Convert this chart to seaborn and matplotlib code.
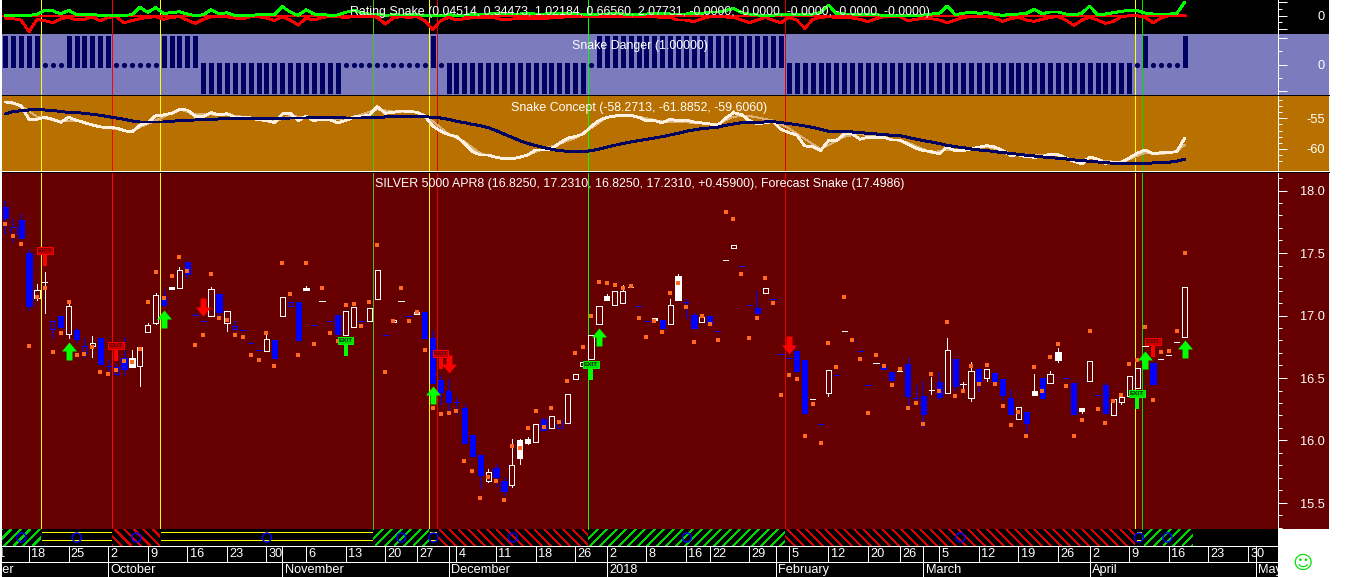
import numpy as np
import pandas as pd
import matplotlib
matplotlib.use('Agg')
import matplotlib.pyplot as plt
from matplotlib.path import Path
from matplotlib.ticker import FixedLocator, FixedFormatter
import seaborn as sns

# ---- price pane data (one entry per daily bar) ----
opens = [17.868,17.652,17.761,17.500,17.143,17.265,16.895,16.993,16.855,16.881,
         16.703,16.756,16.817,16.593,16.535,16.657,16.657,16.599,16.871,16.943,
         17.148,17.228,17.223,17.425,17.001,16.953,16.999,17.169,16.937,16.895,
         16.881,16.777,16.721,16.719,16.801,16.999,17.073,17.105,17.220,16.924,
         17.113,16.953,17.004,16.847,16.911,16.956,16.959,17.135,16.841,16.945,
         17.113,16.993,17.025,17.025,16.817,16.481,16.396,16.305,16.257,16.044,
         15.884,15.679,15.777,15.676,15.644,16.001,16.009,15.991,16.172,16.103,
         16.100,16.143,16.489,16.599,16.655,16.935,17.153,17.087,17.097,17.225,
         17.073,16.953,16.977,16.961,16.935,17.316,17.111,17.004,16.945,16.993,
         16.873,17.441,17.537,17.393,17.081,17.057,17.183,17.129,16.689,16.657,
         16.716,16.641,16.329,16.129,16.383,16.521,16.873,16.793,16.713,16.441,
         16.617,16.596,16.551,16.553,16.612,16.337,16.356,16.404,16.468,16.383,
         16.649,16.452,16.343,16.569,16.503,16.537,16.489,16.340,16.175,16.228,
         16.393,16.500,16.463,16.708,16.500,16.457,16.260,16.479,16.361,16.441,
         16.207,16.305,16.359,16.423,16.753,16.617,16.649,16.681,16.785,16.825]
closes = [17.777,17.708,17.617,17.076,17.201,17.265,16.956,16.911,17.073,16.812,
          16.753,16.777,16.612,16.593,16.591,16.575,16.588,16.745,16.927,17.161,
          17.081,17.215,17.361,17.329,17.001,16.953,17.209,17.025,17.033,16.913,
          16.881,16.777,16.721,16.809,16.660,17.145,17.105,16.804,17.207,16.924,
          17.113,16.953,16.849,17.033,17.065,16.956,17.063,17.361,16.841,16.961,
          17.113,16.993,17.015,16.820,16.463,16.388,16.308,16.305,15.983,15.876,
          15.727,15.745,15.711,15.599,15.801,15.860,15.983,16.129,16.084,16.193,
          16.159,16.369,16.529,16.628,16.841,17.073,17.127,17.193,17.199,17.225,
          17.073,16.953,16.964,16.900,17.081,17.127,17.111,16.900,16.985,16.943,
          16.873,17.441,17.561,17.393,17.081,17.023,17.217,17.129,16.689,16.657,
          16.559,16.223,16.329,16.129,16.561,16.521,16.873,16.793,16.713,16.441,
          16.617,16.575,16.487,16.553,16.359,16.337,16.215,16.404,16.351,16.721,
          16.439,16.452,16.553,16.473,16.569,16.476,16.364,16.215,16.265,16.137,
          16.367,16.343,16.535,16.644,16.500,16.215,16.236,16.633,16.361,16.220,
          16.329,16.345,16.513,16.577,16.753,16.455,16.649,16.681,16.785,17.231]
highs = [17.916,17.772,17.809,17.521,17.249,17.345,16.956,16.993,17.089,16.897,
         16.823,16.833,16.817,16.641,16.609,16.825,16.721,16.745,16.937,17.180,
         17.207,17.228,17.385,17.425,17.017,16.953,17.228,17.169,17.033,16.959,
         16.881,16.777,16.721,16.849,16.801,17.145,17.105,17.105,17.236,16.924,
         17.113,16.953,17.004,17.033,17.065,16.956,17.063,17.361,16.841,16.961,
         17.113,16.993,17.025,17.025,16.876,16.524,16.492,16.348,16.289,16.044,
         15.884,15.772,15.809,15.708,16.012,16.012,16.031,16.129,16.172,16.193,
         16.159,16.369,16.529,16.628,16.841,17.073,17.172,17.193,17.244,17.225,
         17.073,16.953,16.977,16.961,17.129,17.332,17.132,17.020,16.985,16.993,
         16.873,17.441,17.561,17.393,17.081,17.196,17.217,17.129,16.689,16.657,
         16.716,16.641,16.329,16.129,16.561,16.521,16.873,16.793,16.713,16.441,
         16.617,16.596,16.551,16.553,16.665,16.441,16.473,16.508,16.548,16.820,
         16.649,16.468,16.628,16.569,16.569,16.537,16.489,16.409,16.265,16.228,
         16.532,16.500,16.553,16.740,16.500,16.457,16.260,16.633,16.361,16.457,
         16.329,16.345,16.513,16.577,16.753,16.617,16.649,16.681,16.785,17.231]
lows = [17.649,17.591,17.617,17.041,17.124,17.020,16.817,16.911,16.823,16.791,
        16.671,16.671,16.612,16.545,16.524,16.524,16.588,16.439,16.871,16.935,
        17.079,17.215,17.223,17.297,17.001,16.953,16.999,16.991,16.876,16.895,
        16.881,16.777,16.721,16.719,16.660,16.999,17.073,16.804,17.207,16.924,
        17.113,16.953,16.849,16.847,16.911,16.956,16.959,17.135,16.841,16.945,
        17.113,16.993,17.015,16.820,16.463,16.295,16.231,16.209,15.983,15.876,
        15.617,15.671,15.639,15.564,15.631,15.815,15.969,15.991,16.084,16.103,
        16.100,16.143,16.489,16.599,16.655,16.935,17.127,17.087,17.097,17.225,
        17.073,16.953,16.964,16.900,16.935,17.127,16.977,16.900,16.945,16.943,
        16.873,17.441,17.537,17.393,17.081,17.023,17.183,17.129,16.689,16.657,
        16.559,16.223,16.329,16.129,16.359,16.521,16.873,16.793,16.713,16.441,
        16.617,16.575,16.487,16.553,16.271,16.292,16.111,16.372,16.332,16.383,
        16.404,16.404,16.319,16.399,16.479,16.476,16.324,16.215,16.175,16.057,
        16.367,16.343,16.463,16.631,16.500,16.215,16.223,16.479,16.361,16.220,
        16.207,16.292,16.359,16.423,16.753,16.455,16.649,16.681,16.785,16.825]
# b = blue bar, w = white bar
bar_colours = ("bbbbwwbbwb" "bwbbbbwwww" "bwwbbbwbwb" "bbbwbwbbwb" "wbbwwbwwbw"
               "wbwbbbbbbb" "bwbbwwwwbw" "bwwwwwwwww" "bbwbwwbbwb" "bwwbbbwbbb"
               "bbwbwbwbbb" "wbbwbbbwbw" "bwwbwbbbwb" "wbwwbbwwbb" "wwwwwbwwww")
forecast = [17.735,17.639,17.569,16.753,17.145,17.217,16.705,16.857,17.105,16.681,
            16.689,16.748,16.545,16.529,16.561,16.633,16.625,16.729,17.105,17.345,
            17.143,17.313,17.465,17.353,16.761,16.841,17.329,16.983,16.967,16.841,
            16.825,16.681,16.641,16.857,16.593,17.417,17.169,16.681,17.417,16.769,
            17.217,16.857,16.796,17.081,17.089,16.913,17.105,17.561,16.545,16.953,
            17.217,16.953,17.025,16.721,16.257,16.209,16.217,16.233,15.833,15.753,
            15.537,15.705,15.676,15.524,15.959,15.943,16.097,16.233,16.105,16.257,
            16.145,16.473,16.697,16.745,16.993,17.265,17.257,17.241,17.217,17.233,
            16.977,16.825,16.953,16.868,17.177,17.257,17.065,16.785,16.993,16.929,
            16.801,17.825,17.769,17.329,16.817,16.977,17.297,17.097,16.361,16.521,
            16.489,16.033,16.289,15.977,16.777,16.585,17.145,16.801,16.649,16.217,
            16.681,16.593,16.441,16.569,16.257,16.297,16.129,16.529,16.393,16.945,
            16.353,16.393,16.593,16.449,16.601,16.449,16.273,16.121,16.225,16.033,
            16.585,16.393,16.665,16.769,16.433,16.033,16.161,16.873,16.249,16.137,
            16.313,16.361,16.609,16.641,16.905,16.321,16.705,16.713,16.873,17.499]

buy_bars = [8, 20, 54, 75, 144, 149]
buy_prices = [16.716, 16.972, 16.364, 16.828, 16.644, 16.732]
sell_bars = [25, 56, 99]
sell_prices = [17.068, 16.612, 16.764]
exit_red_bars = [5, 14, 55, 145]
exit_red_tops = [17.519, 16.759, 16.695, 16.791]
exit_red_ends = [17.396, 16.636, 16.572, 16.668]
exit_green_bars = [43, 74, 143]
exit_green_tops = [16.799, 16.607, 16.375]
exit_green_ends = [16.676, 16.484, 16.252]

# ---- indicator panes ----
rating_green = [.05,.05,.05,.05,.2,.8,.75,.25,.8,.2,.2,.2,.05,.1,.05,.05,.15,1.25,.5,1.2,
                .35,.45,.6,.25,0,.15,.9,.25,.45,.05,0,.05,.15,.25,.2,1.35,.55,.05,.9,.25,
                .2,.05,.1,.5,.8,.45,.25,.25,.05,.15,.1,.15,.15,.05,.05,0,
                .15,.05,.1,.15,.25,.25,.35,.25,.25,.25,.35,.25,.25,.3,.35,.3,.25,.25,.15,.25,
                .25,.35,.25,.15,.15,.25,.35,.35,.25,.25,.25,.35,.35,.55,.55,.75,1.1,.45,.25,.1,
                .05,.05,.25,.15,.25,.15,.25,.45,1.6,.35,.25,.25,.15,.25,.15,.05,.05,
                .05,.05,.05,.1,.25,.35,1.45,.15,.35,.55,.35,.45,.2,.05,.2,.25,.35,.95,.3,.55,
                .55,.25,.1,.35,1.45,.15,.25,.45,.65,.8,.75,.4,.25,.25,.25,.3,2.05]
rating_red = [-.35,-.45,-.65,-2.4,-.55,-.75,-1.05,-.45,-.25,-.65,-.55,-.15,-.75,-.25,-.15,-1.05,
              -.75,-.45,-.25,-.15,-.55,-.25,-.15,-.65,-1.15,-.55,-.15,-.15,-.15,-.35,-.45,-.15,
              -.15,-.35,-.75,-.15,-.65,-1.4,-.35,-.65,-.25,-.15,-.15,-.25,-.15,-.15,-.05,-.25,
              -1.25,-.35,-.15,-.25,-.15,-.75,-2.05,-.75,
              -.25,-.65,-.45,-.3,-.25,-.25,-.35,-.65,-.5,-.4,-.45,-.35,-.45,-.3,-.25,-.15,
              -.15,-.15,-.15,-.15,-.15,-.15,-.15,-.15,-.15,-.15,-.15,-.25,-.25,-.65,-.65,-.9,
              -.45,-.15,-.15,-.2,-.25,-.65,-1.05,-.65,-.25,-.65,-1.05,-.25,-.65,-1.9,-.55,-.25,
              -.15,-.25,-.25,-.35,-.55,-.9,-.45,-.15,-.15,
              -.15,-.75,-.55,-.4,-.45,-.65,-1.05,-.65,-.25,-.15,-.15,-.15,-.35,-.85,-.45,-.25,
              -.65,-.85,-.55,-.25,-.15,-.65,-1.45,-.65,-.25,-.65,-1.15,-.85,-.15,0,0,-.25,
              -1.05,-.35,0,0,0]
danger = ([1]*5 + [0]*3 + [1]*6 + [0]*6 + [1]*5 + [-1]*18 + [0]*11 + [1] + [0] + [-1]*18
          + [0] + [1]*24 + [-1]*44 + [0] + [1] + [0]*4 + [1])
concept_fast = [-52.34,-52.5,-52.99,-55.16,-55.16,-54.84,-55.16,-55.65,-54.84,-55.33,
                -55.71,-56.09,-56.41,-56.52,-56.58,-57.01,-57.23,-56.14,-55.71,-54.57,
                -54.46,-54.18,-53.59,-53.64,-54.67,-54.73,-54.08,-54.46,-54.24,-54.78,
                -54.78,-54.95,-55.22,-55.38,-55.71,-54.29,-54.18,-55.38,-54.67,-55.38,
                -55.11,-55.27,-55.71,-55.38,-54.78,-54.73,-54.46,-53.1,-54.18,-54.02,
                -53.8,-53.86,-54.02,-54.62,-56.25,-57.12,-57.66,
                -57.99,-59.08,-60.43,-60.98,-60.98,-61.36,-61.58,-61.58,-61.36,-60.98,
                -60.16,-60.16,-60.0,-59.08,-58.26,-57.99,-57.55,-56.36,-55.38,-54.84,
                -54.62,-54.51,-54.51,-54.84,-55.38,-55.38,-55.71,-55.16,-55.38,-55.27,
                -55.6,-55.76,-55.92,-56.14,-55.0,-54.08,-54.4,-55.38,-55.92,-55.71,
                -55.54,-56.79,-57.34,-57.72,-59.51,-59.62,-60.27,-58.64,-58.64,-57.55,
                -57.55,-58.42,-58.1,-58.21,-58.1,-58.53,
                -58.53,-59.18,-59.84,-60.27,-60.43,-60.82,-59.62,-60.27,-60.27,-59.95,
                -59.73,-59.46,-59.67,-60.27,-61.03,-60.98,-61.25,-61.36,-61.25,-60.87,
                -60.92,-61.52,-62.01,-62.45,-61.3,-61.68,-62.34,-62.17,-62.17,-61.47,
                -60.71,-60.16,-60.82,-60.6,-60.6,-60.43,-58.27]
concept_slow = [-54.29,-53.91,-53.75,-53.64,-53.59,-53.64,-53.7,-53.91,-54.02,-54.08,
                -54.18,-54.35,-54.51,-54.73,-54.95,-55.16,-55.43,-55.6,-55.6,-55.6,
                -55.6,-55.49,-55.38,-55.33,-55.27,-55.22,-55.16,-55.11,-55.0,-55.0,
                -55.0,-55.05,-55.05,-55.05,-55.0,-55.0,-54.95,-54.95,-54.95,-54.89,
                -54.89,-54.84,-54.89,-54.95,-54.95,-54.95,-54.89,-54.89,-54.78,-54.73,
                -54.73,-54.73,-54.73,-54.73,-54.84,-54.95,-55.16,
                -55.49,-55.71,-55.98,-56.2,-56.52,-57.01,-57.55,-58.1,-58.64,-59.08,
                -59.46,-59.78,-60.05,-60.27,-60.38,-60.49,-60.49,-60.27,-60.05,-59.73,
                -59.4,-59.13,-58.86,-58.64,-58.42,-58.21,-57.99,-57.72,-57.45,-57.12,
                -56.9,-56.68,-56.58,-56.47,-56.14,-55.92,-55.71,-55.65,-55.65,-55.6,
                -55.54,-55.71,-55.87,-56.03,-56.25,-56.47,-56.79,-57.12,-57.17,-57.17,
                -57.23,-57.34,-57.45,-57.55,-57.66,-57.77,
                -57.83,-58.1,-58.37,-58.64,-58.86,-59.13,-59.4,-59.62,-59.78,-60.0,
                -60.16,-60.27,-60.43,-60.6,-60.71,-60.87,-61.03,-61.14,-61.3,-61.41,
                -61.52,-61.63,-61.79,-61.9,-62.01,-62.12,-62.23,-62.34,-62.39,-62.39,
                -62.34,-62.34,-62.28,-62.23,-62.17,-62.01,-61.69]
concept_mid_bars = [0,2,4,7,9,11,16,17,19,22,24,28,31,34,36,38,41,44,47,49,52,53,56,
                    58,60,63,65,68,72,74,76,79,83,87,90,92,94,97,99,103,106,108,112,
                    114,117,119,122,124,127,130,133,136,138,141,144,146,148,149]
concept_mid = [-52.34,-52.99,-54.73,-55.54,-55.38,-56.14,-57.17,-56.47,-55.38,-53.53,-54.29,
               -54.46,-54.89,-55.54,-54.62,-54.84,-55.27,-54.84,-53.53,-53.91,-53.97,-54.46,-57.55,
               -58.8,-60.71,-61.69,-61.36,-60.05,-58.26,-56.63,-54.84,-54.46,-55.54,-55.71,-56.03,
               -54.73,-54.62,-55.38,-56.63,-60.05,-57.99,-57.55,-58.42,
               -58.97,-60.6,-60.16,-60.05,-59.62,-60.71,-61.03,-61.03,-62.23,-61.79,-62.23,-60.6,
               -60.82,-60.43,-59.35]

# ---- signal lines and bottom strip, in bar numbers ----
signal_bars = [4.51, 13.54, 19.58, 46.5, 53.57, 54.6, 73.66, 98.55, 142.77, 143.66]
signal_colours = ['#ffff00', '#ff0000', '#ffff00', '#50c010', '#ffff00', '#e00000',
                  '#00ff00', '#e00000', '#ffff00', '#00e000']
strip_edges = [-0.417, 4.51, 13.54, 19.58, 46.5, 53.57, 54.6, 73.66, 98.55, 142.77, 143.66, 150.0]
strip_kinds = ['g', 'y', 'r', 'y', 'g', 'y', 'r', 'g', 'r', 'y', 'g']

date_bars = [-2, 3, 8, 13, 18, 23, 28, 33, 38, 43, 48, 52, 57, 62, 67, 72, 76, 81, 86, 89, 94,
             99, 104, 109, 113, 118, 123, 128, 133, 137, 142, 147, 152, 157]
date_labels = ['11', '18', '25', '2', '9', '16', '23', '30', '6', '13', '20', '27', '4', '11',
               '18', '26', '2', '8', '16', '22', '29', '5', '12', '20', '26', '5', '12', '19',
               '26', '2', '9', '16', '23', '30']
month_bars = [-7.1, 13, 35, 56, 76, 97.4, 116, 137, 158]
month_labels = ['September', 'October', 'November', 'December', '2018', 'February', 'March',
                'April', 'May']

rating_title = ('Rating Snake (0.04514, 0.34473, 1.02184, 0.66560, 2.07731, -0.0000, -0.0000, '
                '-0.0000, -0.0000, -0.0000)')
danger_title = 'Snake Danger (1.00000)'
concept_title = 'Snake Concept (-58.2713, -61.8852, -59.6060)'
price_title = 'SILVER 5000 APR8 (16.8250, 17.2310, 16.8250, 17.2310, +0.45900), Forecast Snake (17.4986)'

# ---- layout, everything in screen pixels ----
WIDTH, HEIGHT = 1352, 577
BAR_PX = 7.915
FIRST_BAR_PX = 5.3
AXIS_PX = 1277.5
ONE_PX = 0.72
MAROON = '#660000'
NAVY = '#000060'

sns.set_theme(style='white')
plt.rcParams['font.family'] = ['Liberation Sans', 'DejaVu Sans']
plt.rcParams['axes.unicode_minus'] = False

bars = np.arange(150)
fig = plt.figure(figsize=(WIDTH / 100, HEIGHT / 100), dpi=100, facecolor='white')


def to_bar(px):
    return (px - FIRST_BAR_PX) / BAR_PX


def make_pane(top, bottom, colour, right=1329):
    ax = fig.add_axes([2 / WIDTH, 1 - bottom / HEIGHT, (right - 2) / WIDTH, (bottom - top) / HEIGHT])
    ax.set_facecolor(colour)
    ax.set_xlim(to_bar(2), to_bar(right))
    ax.set_xticks([])
    for side in ax.spines:
        ax.spines[side].set_visible(False)
    return ax


def draw_signals(ax):
    for x, c in zip(signal_bars, signal_colours):
        ax.axvline(x, color=c, lw=ONE_PX, antialiased=False, zorder=1)


def right_axis(ax, major, minor, labels=None, fmt=None):
    sp = ax.spines['right']
    sp.set_visible(True)
    sp.set_position(('data', to_bar(AXIS_PX)))
    sp.set_color('white')
    sp.set_linewidth(ONE_PX)
    ax.yaxis.set_major_locator(FixedLocator(major))
    ax.yaxis.set_minor_locator(FixedLocator(minor))
    if labels is None:
        labels = [fmt % m for m in major]
    ax.yaxis.set_major_formatter(FixedFormatter(labels))
    ax.tick_params(axis='y', which='major', left=False, right=True, labelleft=False, labelright=True,
                   length=6.3, width=ONE_PX, color='white', labelcolor='white', labelsize=9.2, pad=27.6)
    ax.tick_params(axis='y', which='minor', left=False, right=True, length=2.9, width=ONE_PX, color='white')
    for lab in ax.get_yticklabels():
        lab.set_ha('right')
    ax.set_ylabel('')
    ax.set_xlabel('')


def pane_title(ax, text, py_frac):
    # titles are centred over the plotted area, not the whole pane
    ax.text(to_bar(639.5), py_frac, text, transform=ax.get_xaxis_transform(), color='white',
            ha='center', va='center', fontsize=8.9, zorder=20)


# ---- rating pane ----
ax_rating = make_pane(0, 33.5, 'black')
ax_rating.set_ylim(-17.8 / 6.7, 15.7 / 6.7)
draw_signals(ax_rating)
rating_df = pd.DataFrame({'bar': bars, 'green': rating_green, 'red': rating_red})
sns.lineplot(data=rating_df, x='bar', y='red', color='#ff0000', lw=1.35, errorbar=None, ax=ax_rating,
             antialiased=False, zorder=3)
ax_rating.axhline(0, xmin=0, xmax=(1186 - 2) / 1327, color='#ff0000', lw=1.35, antialiased=False, zorder=3)
sns.lineplot(data=rating_df, x='bar', y='green', color='#00ff00', lw=1.35, errorbar=None, ax=ax_rating,
             antialiased=False, zorder=4)
right_axis(ax_rating, [-2, 0, 2], [-1, 1], labels=['', '0', ''])
pane_title(ax_rating, rating_title, 0.645)

# ---- danger pane ----
ax_danger = make_pane(33.5, 95.5, '#7b7bbd')
ax_danger.set_ylim(-31 / 26.5, 31 / 26.5)
draw_signals(ax_danger)
danger_df = pd.DataFrame({'bar': bars, 'value': danger})
solid = danger_df[danger_df['value'] != 0]
ax_danger.vlines(solid['bar'], 0, solid['value'], color=NAVY, lw=3.3, capstyle='round',
                 antialiased=False, zorder=3)
sns.scatterplot(data=danger_df[danger_df['value'] == 0], x='bar', y='value', color=NAVY, s=14,
                linewidth=0, ax=ax_danger, zorder=3)
right_axis(ax_danger, [-1, 0, 1], [-0.5, 0.5], labels=['', '0', ''])
pane_title(ax_danger, danger_title, 0.795)

# ---- concept pane ----
ax_concept = make_pane(95.5, 171.5, '#b87000')
ax_concept.set_ylim(-55 - (171.5 - 118.3) / 6.13, -55 + (118.3 - 95.5) / 6.13)
draw_signals(ax_concept)
sns.lineplot(x=concept_mid_bars, y=concept_mid, color='#d8b078', lw=ONE_PX, errorbar=None, ax=ax_concept,
             antialiased=False, zorder=3)
sns.lineplot(x=bars, y=concept_fast, color='#fff0e0', lw=1.3, errorbar=None, ax=ax_concept,
             antialiased=False, zorder=4)
sns.lineplot(x=bars, y=concept_slow, color=NAVY, lw=1.4, errorbar=None, ax=ax_concept,
             antialiased=False, zorder=5)
right_axis(ax_concept, [-60, -55], np.arange(-62, -51), fmt='%d')
ax_concept.spines['top'].set_visible(True)
ax_concept.spines['top'].set_color('black')
ax_concept.spines['top'].set_linewidth(ONE_PX)
pane_title(ax_concept, concept_title, 0.83)

# ---- price pane ----
ax_price = make_pane(171.5, 529, MAROON)
ax_price.set_ylim(18 - (529 - 190.5) / 125, 18 + (190.5 - 171.5) / 125)
draw_signals(ax_price)

o = np.array(opens)
c = np.array(closes)
cols = np.array(['#0000ff' if k == 'b' else '#ffffff' for k in bar_colours])
ax_price.vlines(bars, lows, highs, colors=cols, lw=ONE_PX, antialiased=False, zorder=2)
faces = [col if cl < op else MAROON for col, op, cl in zip(cols, o, c)]
ax_price.bar(bars, np.abs(c - o), bottom=np.minimum(o, c), width=5.2 / BAR_PX, color=faces, edgecolor=cols,
             linewidth=ONE_PX, antialiased=False, zorder=3)
sns.scatterplot(x=bars, y=forecast, marker='s', color='#ff6a20', s=9, linewidth=0, ax=ax_price, zorder=4)

arrow_up = Path([(0, 1), (0.83, 0), (0.33, 0), (0.33, -1), (-0.33, -1), (-0.33, 0), (-0.83, 0), (0, 1)], closed=True)
arrow_down = Path([(0, -1), (0.83, 0), (0.33, 0), (0.33, 1), (-0.33, 1), (-0.33, 0), (-0.83, 0), (0, -1)], closed=True)
sns.scatterplot(x=buy_bars, y=buy_prices, marker=arrow_up, color='#00ff00', s=168, linewidth=0, ax=ax_price, zorder=6)
sns.scatterplot(x=sell_bars, y=sell_prices, marker=arrow_down, color='#ff0000', s=168, linewidth=0, ax=ax_price, zorder=6)

for xs, tops, ends, edge, fill, ink in [(exit_red_bars, exit_red_tops, exit_red_ends, '#ff0000', '#c00000', '#660000'),
                                        (exit_green_bars, exit_green_tops, exit_green_ends, '#00ff00', '#00dd00', '#003300')]:
    ax_price.vlines(xs, ends, tops, color=edge, lw=1.5, antialiased=False, zorder=6)
    for x, top in zip(xs, tops):
        ax_price.text(x, top, 'EXIT', color=ink, fontsize=4.6, fontweight='bold', ha='center', va='center',
                      zorder=7, bbox=dict(boxstyle='square,pad=0.1', fc=fill, ec=edge, lw=ONE_PX))

right_axis(ax_price, [15.5, 16.0, 16.5, 17.0, 17.5, 18.0], np.round(np.arange(15.3, 18.15, 0.1), 1), fmt='%.1f')
ax_price.spines['top'].set_visible(True)
ax_price.spines['top'].set_color('black')
ax_price.spines['top'].set_linewidth(ONE_PX)
pane_title(ax_price, price_title, 0.966)

# ---- signal strip ----
ax_strip = make_pane(529, 546, 'black', right=1278)
ax_strip.set_ylim(0, 1)
hatch_colours = {'g': '#00d800', 'r': '#d80000'}
hatch_pitch = 9.5 / BAR_PX
hatch_run = 17 / BAR_PX
mids = []
for left, right, kind in zip(strip_edges[:-1], strip_edges[1:], strip_kinds):
    mids.append((left + right) / 2)
    if kind == 'y':
        ax_strip.hlines([0.85, 0.38], left + 0.15, right - 0.15, color='#ffff00', lw=ONE_PX, antialiased=False)
    else:
        span = ax_strip.axvspan(left, right, facecolor='black', linewidth=0)
        for start in np.arange(left - hatch_run, right, hatch_pitch):
            ends = (0, 1) if kind == 'g' else (1, 0)
            ln, = ax_strip.plot([start, start + hatch_run], ends, color=hatch_colours[kind], lw=0.55,
                                antialiased=False, zorder=3)
            ln.set_clip_path(span)
ax_strip.set_xlim(to_bar(2), to_bar(1278))
sns.scatterplot(x=mids, y=[0.5] * len(mids), marker='o', facecolor='none', edgecolor='#0000ff', s=42,
                linewidth=1.0, ax=ax_strip, zorder=5)
ax_strip.set_xlabel('')
ax_strip.set_ylabel('')
ax_strip.set_yticks([])

# ---- date rows ----
ax_dates = make_pane(546, 577, 'black', right=1278)
ax_dates.set_ylim(0, 1)
ax_dates.set_yticks([])
ax_dates.axhline(0.984, color='white', lw=ONE_PX, antialiased=False)
ax_dates.axhline(0.484, color='white', lw=ONE_PX, antialiased=False)
ax_dates.vlines(date_bars, 0.484, 1, color='white', lw=ONE_PX, antialiased=False)
ax_dates.vlines(month_bars, 0, 1, color='white', lw=ONE_PX, antialiased=False)
for x, lab in zip(date_bars, date_labels):
    ax_dates.annotate(lab, (x, 0.73), xytext=(1.6, 0), textcoords='offset points', color='white',
                      fontsize=9.2, va='center', clip_on=True, annotation_clip=False)
for x, lab in zip(month_bars, month_labels):
    ax_dates.annotate(lab, (x, 0.22), xytext=(1.6, 0), textcoords='offset points', color='white',
                      fontsize=9.2, va='center', clip_on=True, annotation_clip=False)

fig.text(1303 / WIDTH, 1 - 563 / HEIGHT, '\u263a', color='#00e000', fontsize=14, ha='center', va='center',
         family='DejaVu Sans')

fig.savefig('out.png', dpi=100, facecolor='white')
